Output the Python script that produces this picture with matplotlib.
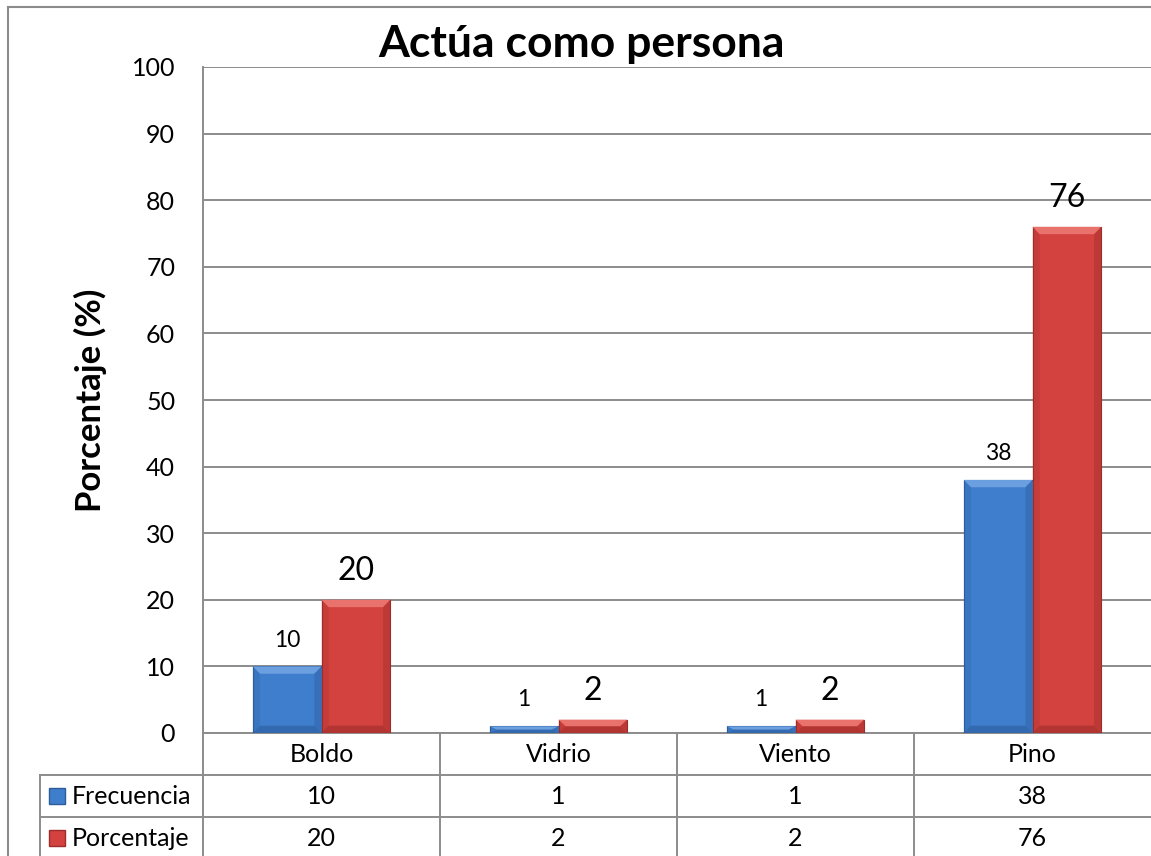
import numpy as np
import matplotlib.pyplot as plt
import matplotlib.transforms as mtransforms
from matplotlib.patches import Polygon
from matplotlib.lines import Line2D

categories = ["Boldo", "Vidrio", "Viento", "Pino"]
frecuencia = [10, 1, 1, 38]
porcentaje = [20, 2, 2, 76]
series_names = ["Frecuencia", "Porcentaje"]
y_ticks = list(range(0, 101, 10))

plt.rcParams['font.family'] = ['Lato', 'DejaVu Sans']

BLUE, BLUE_LIGHT, BLUE_DARK = "#3f7ecc", "#6c9fe0", "#2c5c9a"
RED, RED_LIGHT, RED_DARK = "#d3423e", "#ea726d", "#9c2d2a"
GRID = "#8c8c8c"

fig = plt.figure(figsize=(11.51, 8.56), dpi=100)
ax = fig.add_axes([203 / 1151, 1 - 733 / 856, 948 / 1151, 666 / 856])


def bevel(rects, light, dark):
    # fake the excel "bevel" look: light top edge, darker sides / bottom
    for r in rects:
        x0, y0, wd, ht = r.get_x(), r.get_y(), r.get_width(), r.get_height()
        by = min(1.1, ht / 2)
        bx = 0.03
        top = [(x0, y0 + ht), (x0 + wd, y0 + ht), (x0 + wd - bx, y0 + ht - by), (x0 + bx, y0 + ht - by)]
        bot = [(x0, y0), (x0 + wd, y0), (x0 + wd - bx, y0 + by), (x0 + bx, y0 + by)]
        left = [(x0, y0), (x0, y0 + ht), (x0 + bx, y0 + ht - by), (x0 + bx, y0 + by)]
        right = [(x0 + wd, y0), (x0 + wd, y0 + ht), (x0 + wd - bx, y0 + ht - by), (x0 + wd - bx, y0 + by)]
        ax.add_patch(Polygon(top, closed=True, facecolor=light, edgecolor='none', zorder=4))
        ax.add_patch(Polygon(bot, closed=True, facecolor=dark, edgecolor='none', zorder=4, alpha=0.6))
        ax.add_patch(Polygon(left, closed=True, facecolor=dark, edgecolor='none', zorder=4, alpha=0.25))
        ax.add_patch(Polygon(right, closed=True, facecolor=dark, edgecolor='none', zorder=4, alpha=0.4))


x = np.arange(len(categories))
w = 0.29
b1 = ax.bar(x - w / 2, frecuencia, w, color=BLUE, edgecolor=BLUE_DARK, linewidth=0.8, zorder=3)
b2 = ax.bar(x + w / 2, porcentaje, w, color=RED, edgecolor=RED_DARK, linewidth=0.8, zorder=3)
bevel(b1, BLUE_LIGHT, BLUE_DARK)
bevel(b2, RED_LIGHT, RED_DARK)

for xi, v in zip(x - w / 2, frecuencia):
    ax.annotate(str(v), (xi, v), xytext=(0, 19), textcoords='offset points',
                ha='center', va='center', fontsize=16.5)
for xi, v in zip(x + w / 2, porcentaje):
    ax.annotate(str(v), (xi, v), xytext=(0, 21), textcoords='offset points',
                ha='center', va='center', fontsize=23)

ax.set_xlim(-0.5, 3.5)
ax.set_ylim(0, 100)
ax.set_yticks(y_ticks)
ax.set_xticks([])
ax.tick_params(axis='y', length=0, pad=20, labelsize=18)
ax.grid(axis='y', color=GRID, linewidth=1.4, zorder=0)
for s in ['top', 'right']:
    ax.spines[s].set_visible(False)
for s in ['left', 'bottom']:
    ax.spines[s].set_color(GRID)
    ax.spines[s].set_linewidth(1.4)

ax.set_ylabel("Porcentaje (%)", fontsize=25, fontweight='bold')
ax.yaxis.set_label_coords(-(203 - 107) / 948, 0.5)

# data table under the plot
trans = mtransforms.blended_transform_factory(ax.transData, ax.transAxes)
row_h = 42 / 666
leg_left = -0.5 - 163 / 237
lk = dict(color=GRID, linewidth=1.4, transform=trans, clip_on=False)
for k in (1, 2, 3):
    ax.plot([leg_left, 3.6], [-k * row_h] * 2, **lk)
for xb in [-0.5] + list(x[:-1] + 0.5):
    ax.plot([xb, xb], [0, -3 * row_h], **lk)
ax.plot([leg_left, leg_left], [-row_h, -3 * row_h], **lk)

for xi, c in zip(x, categories):
    ax.text(xi, -0.5 * row_h, c, transform=trans, ha='center', va='center', fontsize=18)
rows = [frecuencia, porcentaje]
colors = [(BLUE, BLUE_DARK), (RED, RED_DARK)]
for r, (name, vals, (fc, ec)) in enumerate(zip(series_names, rows, colors)):
    yc = -(r + 1.5) * row_h
    for xi, v in zip(x, vals):
        ax.text(xi, yc, str(v), transform=trans, ha='center', va='center', fontsize=18)
    ax.plot([leg_left + 17 / 237], [yc], marker='s', markersize=11, markerfacecolor=fc,
            markeredgecolor=ec, transform=trans, clip_on=False)
    ax.text(leg_left + 32 / 237, yc, name, transform=trans, ha='left', va='center', fontsize=18)

fig.text(582 / 1151, 1 - 57 / 856, "Actúa como persona", ha='center', va='baseline',
         fontsize=32, fontweight='bold')

# outer chart border (cropped at the right and bottom)
fig.add_artist(Line2D([8 / 1151, 8 / 1151], [0, 1 - 7 / 856], color=GRID, linewidth=1.5))
fig.add_artist(Line2D([8 / 1151, 1], [1 - 7 / 856, 1 - 7 / 856], color=GRID, linewidth=1.5))

fig.savefig("out.png", dpi=100)
